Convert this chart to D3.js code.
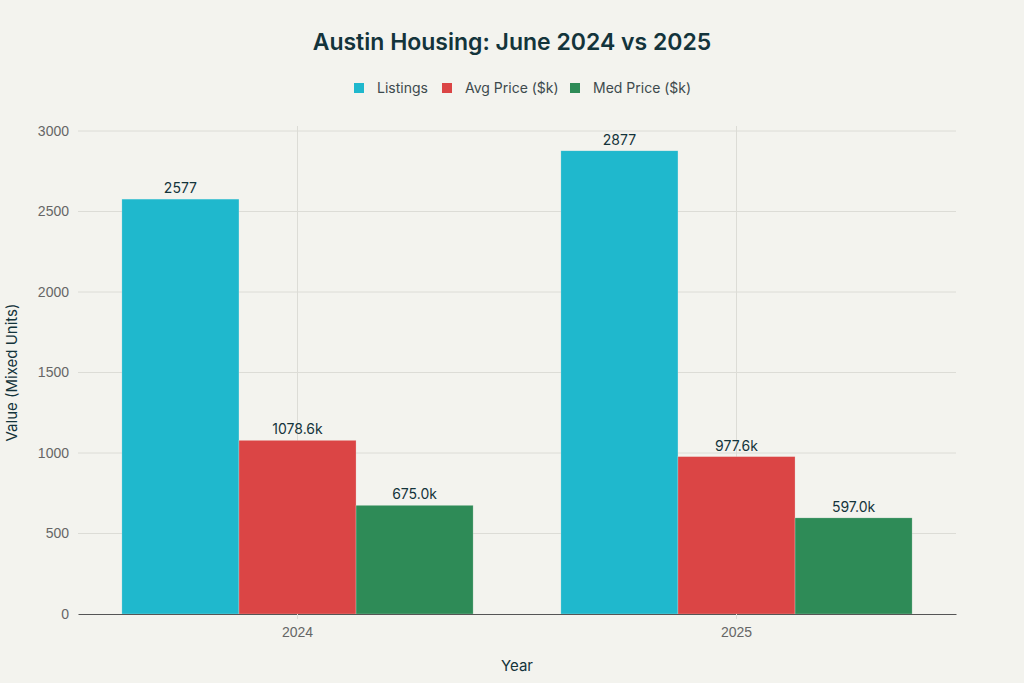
<!DOCTYPE html>
<html>
<head>
<meta charset="utf-8">
<script src="https://cdn.jsdelivr.net/npm/d3@7"></script>
<style>
    body { margin: 0; background: #F3F3EE; }
    svg { display: block; font-family: Inter, "Noto Sans", sans-serif; }
</style>
</head>
<body>
<svg id="chart" width="1024" height="683"></svg>
<script>
// data
const years = ['2024', '2025'];
const seriesNames = ['Listings', 'Avg Price ($k)', 'Med Price ($k)'];
const listings = [2577, 2877];
const avgPrice = [1078.6, 977.6];
const medPrice = [675.0, 597.0];
const yTicks = [0, 500, 1000, 1500, 2000, 2500, 3000];

const colors = ['#1FB8CD', '#DB4545', '#2E8B57'];
const seriesVals = [listings, avgPrice, medPrice];
const labelFmt = [d => String(d), d => d.toFixed(1) + 'k', d => d.toFixed(1) + 'k'];

const svg = d3.select('#chart'),
    margin = {top: 131, right: 68, bottom: 69, left: 78},
    W = 1024, H = 683;

const x0 = d3.scaleBand().domain(years).range([margin.left, W - margin.right]).padding(0);
// bar group takes the middle 80% of each band
const x1 = d3.scaleBand().domain(d3.range(seriesNames.length))
    .range([x0.bandwidth() * 0.1, x0.bandwidth() * 0.9]).padding(0);

const y = d3.scaleLinear().domain([0, 3000]).range([H - margin.bottom, margin.top]);

// gridlines
svg.append('g')
    .selectAll('line')
    .data(yTicks.filter(d => d > 0))
    .join('line')
    .attr('x1', margin.left).attr('x2', W - margin.right)
    .attr('y1', d => y(d)).attr('y2', d => y(d))
    .attr('stroke', '#dcdcd6').attr('stroke-width', 1);

svg.append('g')
    .selectAll('line')
    .data(years)
    .join('line')
    .attr('x1', d => x0(d) + x0.bandwidth() / 2).attr('x2', d => x0(d) + x0.bandwidth() / 2)
    .attr('y1', margin.top - 5).attr('y2', H - margin.bottom)
    .attr('stroke', '#dcdcd6').attr('stroke-width', 1);

// bars
const rows = [];
years.forEach((yr, i) => seriesVals.forEach((s, j) => rows.push({yr, j, v: s[i]})));

svg.append('g')
    .selectAll('rect')
    .data(rows)
    .join('rect')
    .attr('x', d => x0(d.yr) + x1(d.j))
    .attr('width', x1.bandwidth())
    .attr('y', d => y(d.v))
    .attr('height', d => y(0) - y(d.v))
    .attr('fill', d => colors[d.j])
    .attr('stroke', '#F3F3EE').attr('stroke-opacity', 0.5).attr('stroke-width', 0.5);

svg.append('g')
    .selectAll('text')
    .data(rows)
    .join('text')
    .attr('x', d => x0(d.yr) + x1(d.j) + x1.bandwidth() / 2)
    .attr('y', d => y(d.v) - 6)
    .attr('text-anchor', 'middle')
    .attr('font-size', 14)
    .attr('fill', '#13343B')
    .text(d => labelFmt[d.j](d.v));

// axes
const xAxis = svg.append('g')
    .attr('transform', `translate(0,${H - margin.bottom})`)
    .call(d3.axisBottom(x0).tickSizeInner(5).tickSizeOuter(0).tickPadding(8));
xAxis.select('.domain').attr('stroke', '#555').attr('stroke-width', 1);
xAxis.selectAll('.tick line').attr('stroke', '#dcdcd6');
xAxis.selectAll('.tick text').attr('font-size', 14).attr('fill', '#666').attr('font-family', null);

const yAxis = svg.append('g')
    .attr('transform', `translate(${margin.left},0)`)
    .call(d3.axisLeft(y).tickValues(yTicks).tickFormat(d3.format('d')).tickSize(0).tickPadding(9));
yAxis.select('.domain').remove();
yAxis.selectAll('.tick text').attr('font-size', 14).attr('fill', '#666').attr('font-family', null);

// titles
svg.append('text')
    .attr('x', W / 2).attr('y', 50)
    .attr('text-anchor', 'middle')
    .attr('font-size', 23).attr('font-weight', 600)
    .attr('fill', '#13343B')
    .text('Austin Housing: June 2024 vs 2025');

svg.append('text')
    .attr('x', (margin.left + W - margin.right) / 2).attr('y', 671)
    .attr('text-anchor', 'middle')
    .attr('font-size', 15).attr('fill', '#13343B')
    .text('Year');

svg.append('text')
    .attr('transform', `translate(17,${(margin.top + H - margin.bottom) / 2}) rotate(-90)`)
    .attr('text-anchor', 'middle')
    .attr('font-size', 15).attr('fill', '#13343B')
    .text('Value (Mixed Units)');

// legend
const legendX = [354, 442, 570];
const legend = svg.append('g')
    .selectAll('g')
    .data(seriesNames)
    .join('g')
    .attr('transform', (d, i) => `translate(${legendX[i]},88)`);
legend.append('rect')
    .attr('x', 0).attr('y', -5).attr('width', 10).attr('height', 10)
    .attr('fill', (d, i) => colors[i]);
legend.append('text')
    .attr('x', 23).attr('y', 5)
    .attr('font-size', 14).attr('fill', '#3d4a4d')
    .text(d => d);
</script>
</body>
</html>
